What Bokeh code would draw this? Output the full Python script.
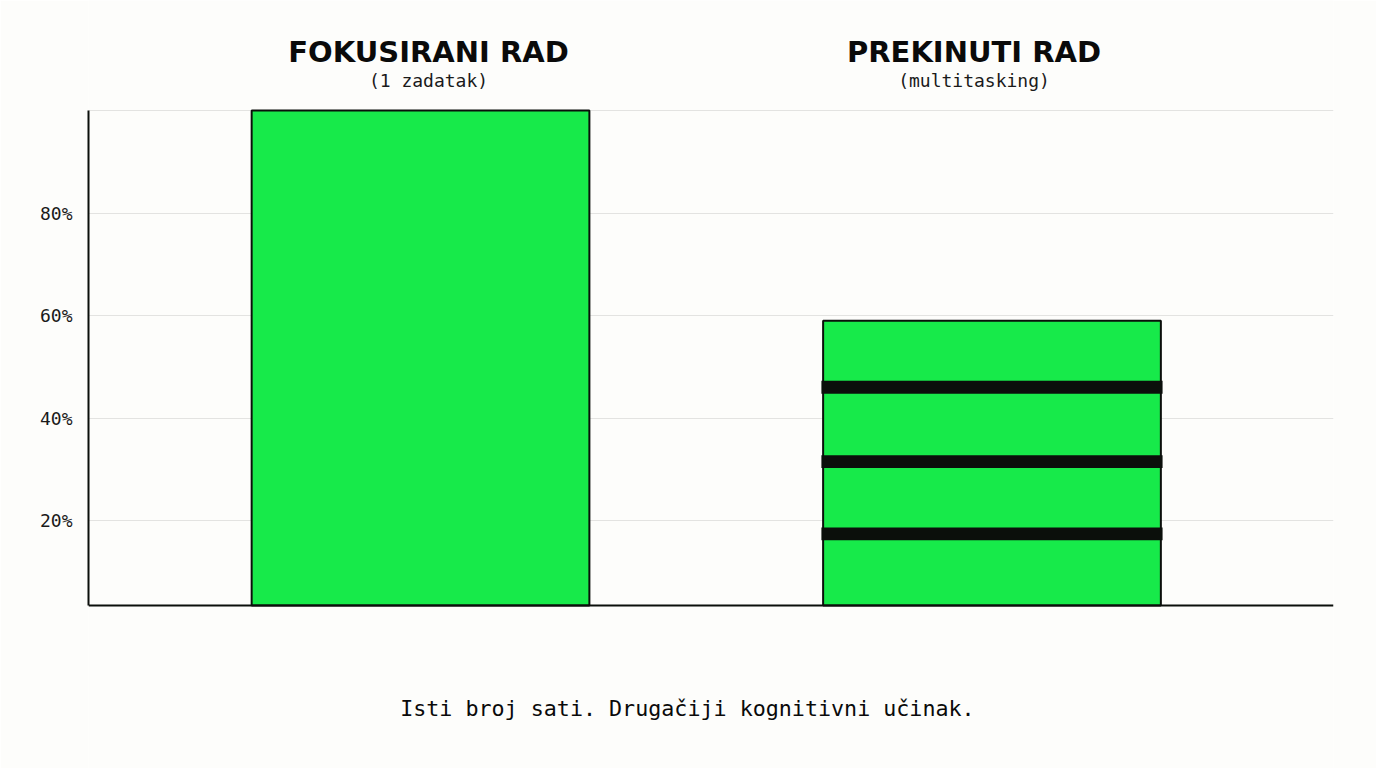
from bokeh.plotting import figure
from bokeh.models import Range1d, FixedTicker, Label, ColumnDataSource, CustomJSTickFormatter, Span
from bokeh.embed import file_html
from bokeh.resources import INLINE

# ---- data ----
categories = ["FOKUSIRANI RAD", "PREKINUTI RAD"]
subtitles = ["(1 zadatak)", "(multitasking)"]
values = [100, 59]
# interruptions (black bands) inside the multitasking bar, in %
interruption_levels = [17.4, 31.5, 46.0]
interruption_thickness = 2.5
y_ticks = [20, 40, 60, 80]
grid_ticks = [20, 40, 60, 80, 100]
caption = "Isti broj sati. Drugačiji kognitivni učinak."

# ---- style / layout ----
BG = "#fdfdfb"
GREEN = "#17ea4a"
DARK = "#0b0f0b"
MONO = "DejaVu Sans Mono"
W, H = 1376, 768
LEFT, RIGHT = 88, 43
Y_BASE, Y_TOP = 3.41, 100          # visible value-axis extent
PX_PER_UNIT = 5.125                  # vertical pixels per percent
ZERO_PAGE_Y = 622.5                  # page y of 0 %


def vy(page_y):
    """value coordinate for a given vertical page position"""
    return (ZERO_PAGE_Y - page_y) / PX_PER_UNIT


p = figure(width=W, height=H, output_backend="svg", toolbar_location=None,
           x_range=Range1d(-0.581, 1.5976), y_range=Range1d(vy(H), vy(0)),
           min_border_left=LEFT, min_border_right=RIGHT, min_border_top=0, min_border_bottom=0,
           background_fill_color=BG, border_fill_color=BG, outline_line_color=None)

xs = list(range(len(categories)))
src = ColumnDataSource(dict(x=xs, top=values))
p.vbar(x="x", top="top", bottom=Y_BASE, width=0.591, source=src,
       fill_color=GREEN, line_color=DARK, line_width=2)

band_src = ColumnDataSource(dict(x=[xs[1]] * len(interruption_levels),
                                 y=interruption_levels,
                                 h=[interruption_thickness] * len(interruption_levels)))
p.rect(x="x", y="y", width=0.597, height="h", source=band_src,
       fill_color=DARK, line_color=None)

# axes
p.yaxis.ticker = FixedTicker(ticks=y_ticks)
p.yaxis.bounds = (Y_BASE, Y_TOP)
p.yaxis.formatter = CustomJSTickFormatter(code="return tick + '%';")
p.yaxis.major_tick_line_color = None
p.yaxis.minor_tick_line_color = None
p.yaxis.axis_line_color = DARK
p.yaxis.axis_line_width = 2
p.yaxis.major_label_text_font = MONO
p.yaxis.major_label_text_font_size = "18px"
p.yaxis.major_label_text_color = "#1a1a1a"
p.yaxis.major_label_standoff = 10

p.xaxis.visible = False
p.add_layout(Span(location=Y_BASE, dimension="width", line_color=DARK, line_width=2))

p.xgrid.grid_line_color = None
p.ygrid.ticker = FixedTicker(ticks=grid_ticks)
p.ygrid.grid_line_color = "#e3e3e1"
p.ygrid.grid_line_width = 1

# titles above each bar
title_x = [0.014, 0.9685]
for tx, cat, sub in zip(title_x, categories, subtitles):
    p.add_layout(Label(x=tx, y=vy(51), text=cat,
                       text_align="center", text_baseline="middle",
                       text_font="DejaVu Sans", text_font_style="bold", text_font_size="29px",
                       text_color="#0a0a0a"))
    p.add_layout(Label(x=tx, y=vy(80), text=sub,
                       text_align="center", text_baseline="middle",
                       text_font=MONO, text_font_size="18px", text_color="#1a1a1a"))

p.add_layout(Label(x=0.467, y=vy(708), text=caption,
                   text_align="center", text_baseline="middle",
                   text_font=MONO, text_font_size="21.7px", text_color="#0a0a0a"))

open("out.html", "w").write(file_html(p, INLINE))
